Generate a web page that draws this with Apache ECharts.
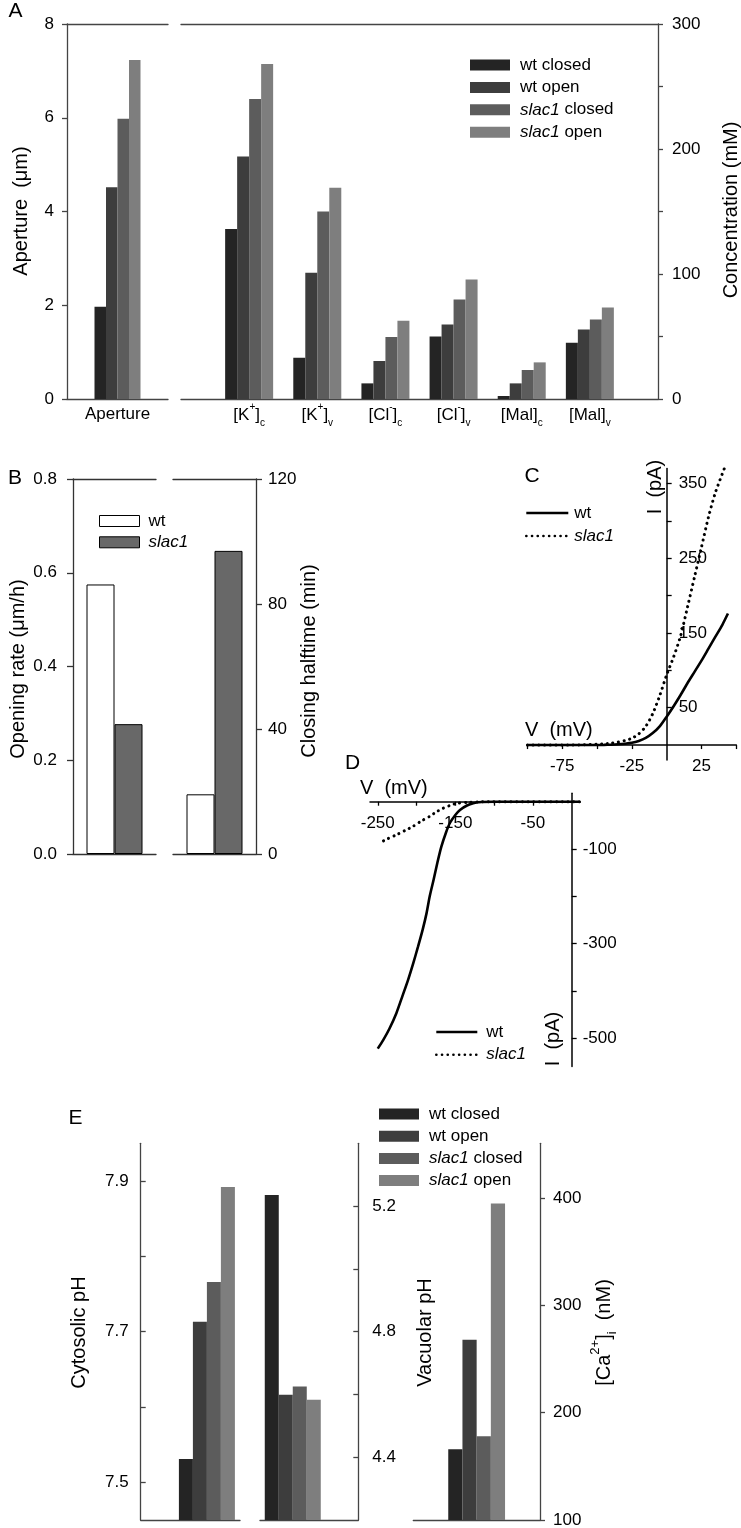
<!DOCTYPE html>
<html><head><meta charset="utf-8">
<script src="https://cdn.jsdelivr.net/npm/echarts@6/dist/echarts.min.js"></script>
<style>html,body{margin:0;padding:0;background:#fff}#chart{width:741px;height:1528px}</style>
</head><body><div id="chart"></div>
<script>
// ---------------- DATA ----------------
const groupNames = ['wt closed', 'wt open', 'slac1 closed', 'slac1 open'];
const apertureCategories = ['Aperture'];
const apertureValues = [1.97, 4.52, 5.98, 7.23];           // µm, one per group
const concCategories = ['', '[K+]c', '[K+]v', '[Cl-]c', '[Cl-]v', '[Mal]c', '[Mal]v', ''];
const concWtClosed   = [136, 33, 12.5, 50, 2.4, 45];
const concWtOpen     = [194, 101, 30.4, 59.7, 12.5, 55.7];
const concSlacClosed = [240, 150, 49.6, 79.7, 23.2, 63.7];
const concSlacOpen   = [268, 169, 62.7, 95.7, 29.3, 73.3];

const genotypes = ['wt', 'slac1'];
const openingRate = [0.575, 0.277];       // µm/h
const closingHalftime = [19.1, 97.0];     // min

// Panel C (I–V)
const cWtV = [-100, -60, -50, -45, -40, -35, -30, -25, -20, -15, -10, -5, 0, 5, 10, 15, 20, 25, 30, 35, 40, 44];
const cWtI = [0, 0, 0, 0.2, 0.5, 1, 1.8, 3, 5.5, 9.5, 16, 25, 38, 52, 67, 83, 98, 113, 129, 145, 161, 176];
const cSlacV = [-100, -70, -60, -50, -45, -40, -35, -30, -25, -20, -15, -10, -5, 0, 5, 10, 15, 20, 25, 30, 35, 42];
const cSlacI = [0, 0, 0.3, 1, 1.5, 2.5, 4, 6, 9, 15, 25, 42, 66, 94, 118, 146, 185, 225, 265, 305, 338, 373];
const cXTicks = [-100, -75, -50, -25, 25, 50];
const cXLabels = [-75, -25, 25];
const cYTicks = [50, 100, 150, 200, 250, 300, 350];
const cYLabels = [50, 150, 250, 350];

// Panel D (I–V)
const dWtV = [10, 0, -50, -100, -120, -127, -135, -144, -150, -157, -162, -168, -173, -178, -183, -187, -192, -198, -204, -211, -218, -226, -235, -243, -250];
const dWtI = [0, 0, 0, 0, -1, -3.5, -8, -17.5, -28, -45, -65, -95, -128, -165, -200, -235, -270, -306, -340, -377, -410, -447, -480, -504, -522];
const dSlacV = [10, 0, -50, -100, -120, -135, -148.5, -157, -166, -175, -183, -194, -204.5, -215, -226, -238, -249];
const dSlacI = [0, 0, 0, 0, -0.3, -1.5, -3.5, -8, -14, -22, -31, -41, -52, -61, -70, -79, -88];
const dXTicks = [-250, -200, -150, -100, -50];
const dXLabels = [-250, -150, -50];
const dYTicks = [-100, -200, -300, -400, -500];
const dYLabels = [-100, -300, -500];

// Panel E
const cytosolicPH = [7.531, 7.713, 7.766, 7.892];
const vacuolarPH = [5.235, 4.599, 4.625, 4.583];
const calciumNM = [166, 268, 178, 395];
const eCytoTicks = [7.5, 7.6, 7.7, 7.8, 7.9];
const eCytoLabels = [7.5, 7.7, 7.9];
const eVacTicks = [4.4, 4.6, 4.8, 5.0, 5.2];
const eVacLabels = [4.4, 4.8, 5.2];
const eCaTicks = [100, 200, 300, 400];

// ---------------- STYLE ----------------
const FONT = 'Liberation Sans, Arial, sans-serif';
const groupColors = ['#242424', '#3d3d3d', '#5c5c5c', '#7e7e7e'];
const gray = '#444';
const concData = [concWtClosed, concWtOpen, concSlacClosed, concSlacOpen];

function line(c, w) { return { color: c, width: w || 1.3 }; }
function pairs(xs, ys) { return xs.map((x, i) => [x, ys[i]]); }
const lbl = (extra) => Object.assign({ fontSize: 17, color: '#000', fontFamily: FONT }, extra || {});
const hidden = { show: false };

function catAxis(grid, data, opts) {
  return Object.assign({
    gridIndex: grid, type: 'category', data: data, boundaryGap: true,
    axisLine: { show: true, onZero: false, lineStyle: line(gray) },
    axisTick: hidden, axisLabel: hidden, splitLine: hidden
  }, opts || {});
}

// grid geometry for panels C and D (used to place the crossing axes at 0)
const gridC = { left: 527.4, top: 468.6, width: 208.9, height: 291.4, xMin: -100, xMax: 50, yMin: -20, yMax: 370 };
const gridD = { left: 370, top: 793.2, width: 210.2, height: 273.4, xMin: -260, xMax: 11, yMin: -560, yMax: 18 };
function zeroOffsetX(g) { return -(0 - g.yMin) / (g.yMax - g.yMin) * g.height; }   // bottom axis moved up to y=0
function zeroOffsetY(g) { return -(g.xMax - 0) / (g.xMax - g.xMin) * g.width; }    // right axis moved left to x=0

const xAxes = [
  // 0 A1 bottom
  catAxis(0, apertureCategories, { axisLabel: lbl({ margin: 7 }) }),
  // 1 A2 bottom
  catAxis(1, concCategories, {
    boundaryGap: false,
    axisLabel: lbl({
      margin: 3, interval: 0, lineHeight: 26,
      formatter: function (v) {
        if (!v) return '';
        const m = v.match(/^\[(\w+)([+-]?)\]([a-z])$/);
        return '[' + m[1] + (m[2] ? '{sup|' + m[2] + '}' : '') + ']{sub|' + m[3] + '}';
      },
      rich: {
        sup: { fontSize: 10, lineHeight: 12, verticalAlign: 'top', color: '#000', fontFamily: FONT },
        sub: { fontSize: 10, lineHeight: 9, verticalAlign: 'bottom', color: '#000', fontFamily: FONT }
      }
    })
  }),
  // 2 A1 top
  catAxis(0, apertureCategories, { position: 'top' }),
  // 3 A2 top
  catAxis(1, concCategories, { position: 'top', boundaryGap: false }),
  // 4 B1 bottom
  catAxis(2, ['Opening'], { axisLine: { show: true, onZero: false, lineStyle: line('#333') } }),
  // 5 B2 bottom
  catAxis(3, ['Closing'], { axisLine: { show: true, onZero: false, lineStyle: line('#333') } }),
  // 6 B1 top
  catAxis(2, ['Opening'], { position: 'top', axisLine: { show: true, onZero: false, lineStyle: line('#333') } }),
  // 7 B2 top
  catAxis(3, ['Closing'], { position: 'top', axisLine: { show: true, onZero: false, lineStyle: line('#333') } }),
  // 8 C
  {
    gridIndex: 4, type: 'value', min: gridC.xMin, max: gridC.xMax, position: 'bottom', offset: zeroOffsetX(gridC),
    axisLine: { show: true, onZero: false, lineStyle: line('#000', 1.5) },
    axisTick: { show: true, length: 4, customValues: cXTicks, lineStyle: line('#000', 1.3) },
    axisLabel: lbl({ margin: 13, customValues: cXLabels }),
    splitLine: hidden
  },
  // 9 D
  {
    gridIndex: 5, type: 'value', min: gridD.xMin, max: gridD.xMax, position: 'bottom', offset: zeroOffsetX(gridD),
    axisLine: { show: true, onZero: false, lineStyle: line('#000', 1.5) },
    axisTick: { show: true, length: 4, customValues: dXTicks, lineStyle: line('#000', 1.3) },
    axisLabel: lbl({ margin: 13, customValues: dXLabels }),
    splitLine: hidden
  },
  // 10 E1
  catAxis(6, ['a', 'b', 'c', 'd'], { boundaryGap: false }),
  // 11 E2
  catAxis(7, ['a', 'b', 'c', 'd'], { boundaryGap: false }),
  // 12 E3
  catAxis(8, ['Ca'])
];

function valAxis(grid, opts) {
  return Object.assign({
    gridIndex: grid, type: 'value',
    axisLine: { show: true, onZero: false, lineStyle: line(gray) },
    axisTick: { show: true, length: 5, lineStyle: line(gray) },
    axisLabel: lbl({ margin: 13 }),
    splitLine: hidden
  }, opts);
}

const yAxes = [
  // 0 A1
  valAxis(0, { min: 0, max: 8, interval: 2, position: 'left' }),
  // 1 A2
  valAxis(1, { min: 0, max: 300, interval: 50, position: 'right',
    axisLabel: lbl({ margin: 14, formatter: v => (v % 100 === 0 ? String(v) : '') }) }),
  // 2 B1
  valAxis(2, { min: 0, max: 0.8, interval: 0.2, position: 'left',
    axisLine: { show: true, lineStyle: line('#333') },
    axisTick: { show: true, length: 6, lineStyle: line('#333') },
    axisLabel: lbl({ margin: 16, formatter: v => v.toFixed(1) }) }),
  // 3 B2
  valAxis(3, { min: 0, max: 120, interval: 40, position: 'right',
    axisLine: { show: true, lineStyle: line('#333') },
    axisTick: { show: true, length: 6, lineStyle: line('#333') },
    axisLabel: lbl({ margin: 12 }) }),
  // 4 C
  valAxis(4, { min: gridC.yMin, max: gridC.yMax, position: 'right', offset: zeroOffsetY(gridC),
    axisLine: { show: true, onZero: false, lineStyle: line('#000', 1.5) },
    axisTick: { show: true, length: 5, customValues: cYTicks, lineStyle: line('#000', 1.3) },
    axisLabel: lbl({ margin: 12, customValues: cYLabels }) }),
  // 5 D
  valAxis(5, { min: gridD.yMin, max: gridD.yMax, position: 'right', offset: zeroOffsetY(gridD),
    axisLine: { show: true, onZero: false, lineStyle: line('#000', 1.5) },
    axisTick: { show: true, length: 5, customValues: dYTicks, lineStyle: line('#000', 1.3) },
    axisLabel: lbl({ margin: 11, customValues: dYLabels }) }),
  // 6 E1
  valAxis(6, { min: 7.45, max: 7.95, position: 'left',
    axisTick: { show: true, inside: true, length: 5, customValues: eCytoTicks, lineStyle: line(gray) },
    axisLabel: lbl({ margin: 12, customValues: eCytoLabels, formatter: v => Number(v).toFixed(1) }) }),
  // 7 E2
  valAxis(7, { min: 4.2, max: 5.4, position: 'right',
    axisTick: { show: true, inside: true, length: 5, customValues: eVacTicks, lineStyle: line(gray) },
    axisLabel: lbl({ margin: 14, customValues: eVacLabels, formatter: v => Number(v).toFixed(1) }) }),
  // 8 E3
  valAxis(8, { min: 100, max: 451, position: 'right',
    axisTick: { show: true, length: 5, customValues: eCaTicks, lineStyle: line(gray) },
    axisLabel: lbl({ margin: 13, customValues: eCaTicks }) })
];

const series = [];
groupNames.forEach((name, i) => {
  const base = { type: 'bar', name: name, barGap: '0%', itemStyle: { color: groupColors[i] }, clip: true };
  series.push(Object.assign({}, base, { xAxisIndex: 0, yAxisIndex: 0, barWidth: 11.5, data: [apertureValues[i]] }));
  series.push(Object.assign({}, base, { xAxisIndex: 1, yAxisIndex: 1, barWidth: 12, data: ['-'].concat(concData[i], ['-']) }));
  series.push(Object.assign({}, base, { xAxisIndex: 10, yAxisIndex: 6, barWidth: 14, data: ['-', '-', cytosolicPH[i], '-'] }));
  series.push(Object.assign({}, base, { xAxisIndex: 11, yAxisIndex: 7, barWidth: 14, data: ['-', vacuolarPH[i], '-', '-'] }));
  series.push(Object.assign({}, base, { xAxisIndex: 12, yAxisIndex: 8, barWidth: 14.2, data: [calciumNM[i]] }));
});
const bFill = ['#ffffff', '#686868'];
genotypes.forEach((g, i) => {
  const base = { type: 'bar', name: g, barGap: '0%', barWidth: 28,
    itemStyle: { color: bFill[i], borderColor: '#000', borderWidth: 1 } };
  series.push(Object.assign({}, base, { xAxisIndex: 4, yAxisIndex: 2, data: [openingRate[i]] }));
  series.push(Object.assign({}, base, { xAxisIndex: 5, yAxisIndex: 3, data: [closingHalftime[i]] }));
});
const solid = { color: '#000', width: 2.6 };
const dotted = { color: '#000', width: 3, type: [0.1, 5.6], cap: 'round' };
const lineBase = { type: 'line', symbol: 'none', smooth: 0.25, silent: true };
series.push(Object.assign({}, lineBase, { name: 'wt C', xAxisIndex: 8, yAxisIndex: 4, lineStyle: solid, itemStyle: { color: '#000' }, data: pairs(cWtV, cWtI) }));
series.push(Object.assign({}, lineBase, { name: 'slac1 C', xAxisIndex: 8, yAxisIndex: 4, lineStyle: dotted, itemStyle: { color: '#000' }, data: pairs(cSlacV, cSlacI) }));
series.push(Object.assign({}, lineBase, { name: 'wt D', xAxisIndex: 9, yAxisIndex: 5, lineStyle: solid, itemStyle: { color: '#000' }, data: pairs(dWtV, dWtI) }));
series.push(Object.assign({}, lineBase, { name: 'slac1 D', xAxisIndex: 9, yAxisIndex: 5, lineStyle: dotted, itemStyle: { color: '#000' }, data: pairs(dSlacV, dSlacI) }));

const italicRich = { i: { fontStyle: 'italic', fontSize: 17, fontFamily: FONT, color: '#000' } };
function legendText(extra) {
  return Object.assign({ fontSize: 17, fontFamily: FONT, color: '#000', lineHeight: 18, rich: italicRich }, extra || {});
}
const groupFormatter = n => n.replace('slac1', '{i|slac1}');
const genoFormatter = n => (n.indexOf('slac1') === 0 ? '{i|slac1}' : 'wt');
const noSymbol = { color: 'rgba(0,0,0,0)', opacity: 0, borderWidth: 0 };

const legends = [
  { left: 470, top: 56, orient: 'vertical', data: groupNames, icon: 'rect', itemWidth: 40, itemHeight: 11, itemGap: 4.4,
    selectedMode: false, textStyle: legendText({ padding: [0, 0, 0, 5] }), formatter: groupFormatter, padding: 0 },
  { left: 379, top: 1105, orient: 'vertical', data: groupNames, icon: 'rect', itemWidth: 40, itemHeight: 11, itemGap: 4.2,
    selectedMode: false, textStyle: legendText({ padding: [0, 0, 0, 5] }), formatter: groupFormatter, padding: 0 },
  { left: 99, top: 512, orient: 'vertical', icon: 'rect', itemWidth: 40, itemHeight: 11, itemGap: 3.3, selectedMode: false,
    data: [{ name: 'wt', itemStyle: { color: '#fff', borderColor: '#000', borderWidth: 1 } },
           { name: 'slac1', itemStyle: { color: '#686868', borderColor: '#000', borderWidth: 1 } }],
    textStyle: legendText({ padding: [0, 0, 0, 4] }), formatter: genoFormatter, padding: 0 },
  { left: 525, top: 504, orient: 'vertical', data: ['wt C', 'slac1 C'], itemWidth: 42, itemHeight: 12, itemGap: 5,
    itemStyle: noSymbol, lineStyle: { width: 2.6 },
    selectedMode: false, textStyle: legendText({ padding: [0, 0, 0, 1] }), formatter: genoFormatter, padding: 0 },
  { left: 435, top: 1023, orient: 'vertical', data: ['wt D', 'slac1 D'], itemWidth: 41, itemHeight: 12, itemGap: 4.7,
    itemStyle: noSymbol, lineStyle: { width: 2.6 },
    selectedMode: false, textStyle: legendText({ padding: [0, 0, 0, 4] }), formatter: genoFormatter, padding: 0 }
];

function txt(text, x, y, size, opts) {
  opts = opts || {};
  return {
    type: 'text', x: x, y: y, rotation: opts.rot ? Math.PI / 2 : 0, silent: true,
    style: {
      text: text, fill: '#000', font: (opts.italic ? 'italic ' : '') + size + 'px ' + FONT,
      fontSize: size, fontFamily: FONT,
      align: opts.align || 'center', verticalAlign: 'middle',
      textAlign: opts.align || 'center', textVerticalAlign: 'middle',
      rich: opts.rich, lineHeight: opts.lineHeight
    }
  };
}

const graphics = [
  txt('A', 15.5, 11.5, 21), txt('B', 15, 478.5, 21), txt('C', 532, 476.5, 21),
  txt('D', 352.5, 763.5, 21), txt('E', 75.5, 1118.5, 21),
  txt('Aperture  (\u03bcm)', 21, 211, 20, { rot: true }),
  txt('Concentration (mM)', 731, 210, 20, { rot: true }),
  txt('Opening rate (\u03bcm/h)', 18, 669, 20, { rot: true }),
  txt('Closing halftime (min)', 309, 661, 20, { rot: true }),
  txt('V  (mV)', 525, 730, 20, { align: 'left' }),
  txt('I  (pA)', 655, 487, 20, { rot: true }),
  txt('V  (mV)', 360, 788, 20, { align: 'left' }),
  txt('I  (pA)', 553, 1039, 20, { rot: true }),
  txt('Cytosolic pH', 79, 1332.5, 20, { rot: true }),
  txt('Vacuolar pH', 425, 1332.5, 20, { rot: true }),
  txt('[Ca{sup|2+}]{sub|i}  (nM)', 604, 1332.5, 20, { rot: true, lineHeight: 30,
    rich: { sup: { fontSize: 13, lineHeight: 12, verticalAlign: 'top', fontFamily: FONT, fill: '#000' },
            sub: { fontSize: 13, lineHeight: 12, verticalAlign: 'bottom', fontFamily: FONT, fill: '#000' } } })
];

function g(o) { return Object.assign({ outerBoundsMode: 'none', containLabel: false }, o); }

const option = {
  backgroundColor: '#ffffff',
  animation: false,
  textStyle: { fontFamily: FONT },
  grid: [
    g({ left: 67, top: 24, width: 101, height: 375 }),
    g({ left: 181, top: 24, width: 477, height: 375 }),
    g({ left: 73, top: 479, width: 83, height: 375 }),
    g({ left: 173, top: 479, width: 83, height: 375 }),
    g({ left: gridC.left, top: gridC.top, width: gridC.width, height: gridC.height }),
    g({ left: gridD.left, top: gridD.top, width: gridD.width, height: gridD.height }),
    g({ left: 140.7, top: 1143.3, width: 99.3, height: 376.7 }),
    g({ left: 260, top: 1143.3, width: 98.3, height: 376.7 }),
    g({ left: 413.3, top: 1143.3, width: 126.7, height: 376.7 })
  ],
  xAxis: xAxes,
  yAxis: yAxes,
  legend: legends,
  series: series,
  graphic: graphics
};

const chart = echarts.init(document.getElementById('chart'), null, { renderer: 'canvas' });
chart.setOption(option);
</script>
</body></html>
